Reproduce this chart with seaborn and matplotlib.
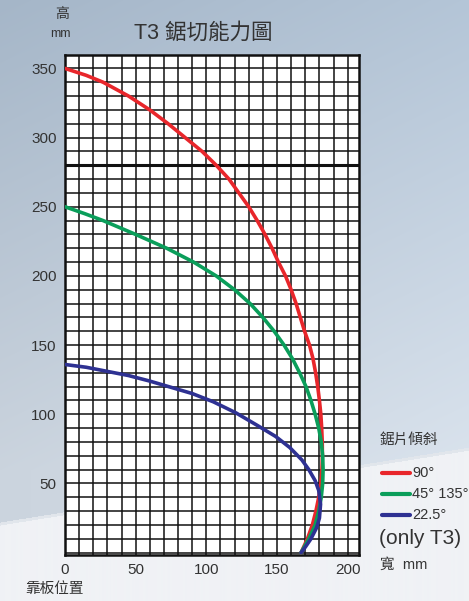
import matplotlib
matplotlib.use("Agg")
import matplotlib.pyplot as plt
import numpy as np
import pandas as pd
import seaborn as sns

# values (width mm, height mm)
red_y = [350, 345, 340, 330, 320, 310, 300, 290, 280, 270, 260, 250, 240, 230, 220, 210, 200,
         190, 180, 170, 160, 150, 140, 130, 120, 110, 100, 90, 80, 70, 60, 50, 40, 30, 20, 10, 0]
red_x = [0, 15, 27, 45, 60, 73, 85, 97, 107, 116, 123, 130, 136, 141.5, 146.5, 151, 156,
         160, 163.5, 166.5, 169.5, 173, 175.5, 177.3, 178.8, 180, 181, 181.6, 182, 182.1, 181.8,
         181, 179.5, 177.5, 175, 171.5, 167]

green_y = [250, 245, 240, 230, 220, 210, 200, 190, 180, 170, 160, 150, 140, 130, 120, 110, 100,
           90, 80, 70, 60, 50, 40, 30, 20, 10, 0]
green_x = [0, 14, 27, 50, 72, 91, 107, 120, 131, 140, 148, 155, 161, 166, 170.5, 174, 177,
           179.5, 181.3, 182.3, 182.6, 182.3, 181.3, 179.5, 177, 172.5, 167]

blue_y = [136, 134, 131, 128, 124, 119.5, 115, 109, 101, 92, 84, 76, 67, 60, 52, 45, 35, 25, 18, 10, 4, 0]
blue_x = [0, 15, 30, 45, 60, 75, 90, 105, 121, 136, 149, 159, 167.6, 172.5, 177, 179.5, 180.8, 180, 178, 174, 170, 167]

series_names = ["90°", "45° 135°", "22.5°"]
series_colors = ["#e8262b", "#0a9e5a", "#2e3192"]

x_ticks = [0, 50, 100, 150, 200]
y_ticks = [50, 100, 150, 200, 250, 300, 350]

df = pd.concat([
    pd.DataFrame({"w": red_x, "h": red_y, "angle": series_names[0]}),
    pd.DataFrame({"w": green_x, "h": green_y, "angle": series_names[1]}),
    pd.DataFrame({"w": blue_x, "h": blue_y, "angle": series_names[2]}),
])

sns.set_style("white")
plt.rcParams["font.family"] = ["Liberation Sans", "Noto Sans CJK TC", "DejaVu Sans"]

W, H = 469, 601
fig = plt.figure(figsize=(W / 100, H / 100), dpi=100)

# background: blue-grey gradient with a light wedge at the bottom
bg = fig.add_axes([0, 0, 1, 1], zorder=-10)
yy, xx = np.mgrid[0:H, 0:W]
t = np.clip(yy / 470.0, 0, 1)[..., None]
top = np.array([165, 182, 200]) / 255
low = np.array([203, 212, 222]) / 255
img = top * (1 - t) + low * t
img = img + (xx / W)[..., None] * 0.06
edge = 525 - xx * (75 / W)
img[yy > edge] = np.array([240, 242, 245]) / 255
img[(yy > edge - 3) & (yy <= edge)] = np.array([225, 230, 236]) / 255
bg.imshow(np.clip(img, 0, 1), aspect="auto", extent=[0, 1, 0, 1], origin="upper")
bg.set_axis_off()

ax = fig.add_axes([65 / W, 1 - 555 / H, 294 / W, 500 / H])
ax.set_facecolor("white")

sns.lineplot(data=df, x="w", y="h", hue="angle", palette=series_colors,
             sort=False, estimator=None, linewidth=2.6, legend=False, ax=ax, zorder=5)

ax.set_xlim(0, 208)
ax.set_ylim(-1.7, 359.7)
xs = np.arange(0, 210, 10)
ys = np.arange(0, 360, 10)
ax.set_xticks(xs)
ax.set_yticks(ys)
ax.grid(True, color="#111111", linewidth=1.1)
ax.axhline(280, color="#111111", linewidth=2.2, zorder=2)
ax.set_xticklabels([str(v) if v in x_ticks else "" for v in xs])
ax.set_yticklabels([str(v) if v in y_ticks else "" for v in ys])
ax.tick_params(length=0, labelsize=11, colors="#333333", pad=6)
for s in ax.spines.values():
    s.set_color("#111111")
    s.set_linewidth(1.8)
ax.set_xlabel("")
ax.set_ylabel("")

fig.text(62 / W, 1 - 14 / H, "高", fontsize=10, color="#333333", ha="center", va="center")
fig.text(60 / W, 1 - 34 / H, "mm", fontsize=9, color="#333333", ha="center", va="center")
fig.text(203 / W, 1 - 33 / H, "T3 鋸切能力圖", fontsize=15.5, color="#333333", ha="center", va="center")
fig.text(25 / W, 1 - 589 / H, "靠板位置", fontsize=10.5, color="#333333", ha="left", va="center")
fig.text(380 / W, 1 - 565 / H, "寬  mm", fontsize=10.5, color="#333333", ha="left", va="center")
fig.text(380 / W, 1 - 440 / H, "鋸片傾斜", fontsize=10.5, color="#333333", ha="left", va="center")
for i, (name, col) in enumerate(zip(series_names, series_colors)):
    yp = 1 - (473 + i * 21) / H
    fig.add_artist(plt.Line2D([382 / W, 410 / W], [yp, yp], color=col, linewidth=3))
    fig.text(412 / W, yp, name, fontsize=10.5, color="#333333", ha="left", va="center")
fig.text(379 / W, 1 - 539 / H, "(only T3)", fontsize=15, color="#333333", ha="left", va="center")

fig.savefig("out.png", dpi=100)
